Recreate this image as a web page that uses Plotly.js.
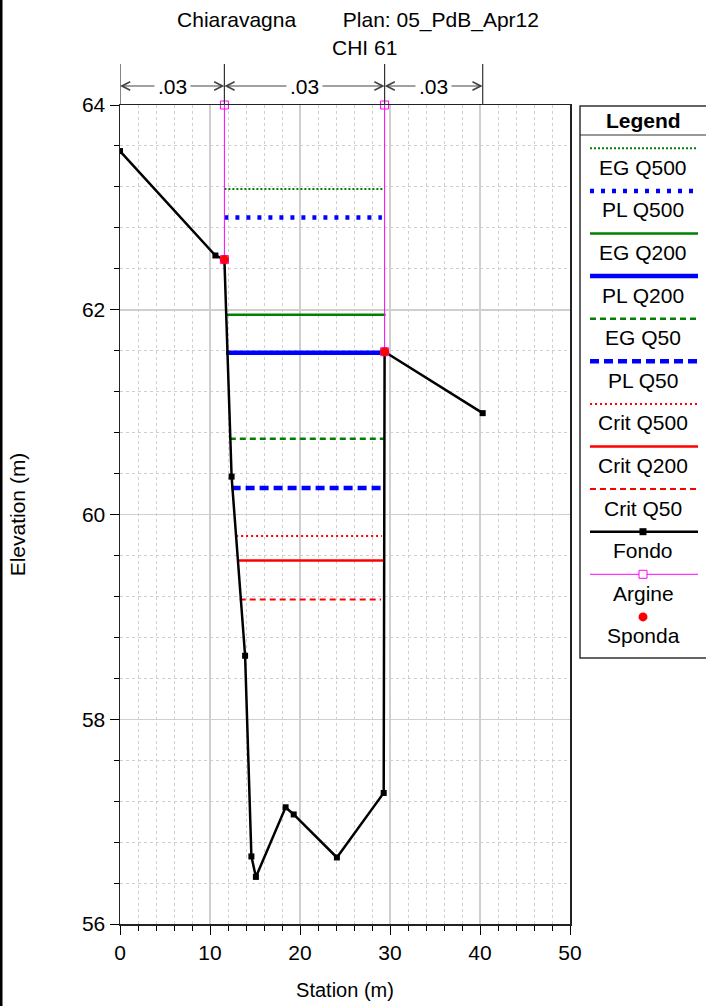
<!DOCTYPE html>
<html>
<head>
<meta charset="utf-8">
<script src="https://cdn.plot.ly/plotly-3.0.1.min.js"></script>
<style>html,body{margin:0;padding:0;background:#fff;}#chart{width:706px;height:1006px;}</style>
</head>
<body>
<div id="chart"></div>
<script>
// ---- data ----
const fondoX = [0, 10.6, 11.6, 12.4, 13.9, 14.6, 15.1, 18.4, 19.3, 24.1, 29.3, 29.4, 40.3];
const fondoY = [63.55, 62.53, 62.49, 60.37, 58.62, 56.66, 56.46, 57.14, 57.07, 56.65, 57.28, 61.59, 60.99];

const argineX = [11.6, 11.6, null, 29.4, 29.4];
const argineY = [62.49, 64.0, null, 61.59, 64.0];

const spondaX = [11.6, 29.4];
const spondaY = [62.49, 61.59];

const wsNames = ['EG Q500', 'PL Q500', 'EG Q200', 'PL Q200', 'EG Q50', 'PL Q50', 'Crit Q500', 'Crit Q200', 'Crit Q50'];
const wsElev  = [63.18, 62.90, 61.95, 61.58, 60.74, 60.26, 59.79, 59.55, 59.17];
const wsLeft  = [11.6, 11.6, 11.8, 11.8, 12.2, 12.4, 12.9, 13.1, 13.3];
const wsRight = [29.4, 29.1, 29.5, 29.4, 29.4, 29.0, 29.1, 29.4, 29.0];

const nBanks = [0, 11.6, 29.4, 40.3];
const nValues = ['.03', '.03', '.03'];

const xTitle = 'Station (m)';
const yTitle = 'Elevation (m)';
const titleLine1 = 'Chiaravagna' + '&nbsp;'.repeat(8) + 'Plan: 05_PdB_Apr12';
const titleLine2 = 'CHI 61';

// ---- styles ----
const GREEN = '#008000', BLUE = '#0000ff', RED = '#ff0000';
const wsStyle = [
  {color: GREEN, width: 2,   dash: '2px,2px'},
  {color: BLUE,  width: 4.5, dash: '4px,7px'},
  {color: GREEN, width: 2.5, dash: 'solid'},
  {color: BLUE,  width: 4.5, dash: 'solid'},
  {color: GREEN, width: 2.5, dash: '6px,4px'},
  {color: BLUE,  width: 4.5, dash: '9px,5px'},
  {color: RED,   width: 2,   dash: '2px,3px'},
  {color: RED,   width: 2.5, dash: 'solid'},
  {color: RED,   width: 2,   dash: '6px,4px'}
];

const traces = [];
wsNames.forEach((n, i) => {
  traces.push({
    type: 'scatter', mode: 'lines', name: n,
    x: [wsLeft[i], wsRight[i]], y: [wsElev[i], wsElev[i]],
    line: {color: wsStyle[i].color, width: wsStyle[i].width, dash: wsStyle[i].dash},
    hoverinfo: 'name+y'
  });
});
traces.push({
  type: 'scatter', mode: 'lines+markers', name: 'Fondo',
  x: fondoX, y: fondoY,
  line: {color: '#000', width: 2.5},
  marker: {symbol: 'square', size: 6, color: '#000'}
});
traces.push({
  type: 'scatter', mode: 'lines+markers', name: 'Argine',
  x: argineX, y: argineY, cliponaxis: false,
  line: {color: '#ff00ff', width: 1},
  marker: {symbol: 'square-open', size: 8, color: '#ff00ff', line: {width: 1}}
});
traces.push({
  type: 'scatter', mode: 'markers', name: 'Sponda',
  x: spondaX, y: spondaY, cliponaxis: false,
  marker: {symbol: 'circle', size: 9, color: RED}
});

// ---- helpers for pixel -> paper positions (layout only) ----
const L = 120, R = 570, T = 105, B = 924;
const xp = px => (px - L) / (R - L);
const yp = py => (B - py) / (B - T);

const shapes = [];
const annotations = [];

// left frame line of the picture
shapes.push({type: 'line', xref: 'paper', yref: 'paper', x0: xp(1), x1: xp(1), y0: yp(-5), y1: yp(1010), line: {color: '#000', width: 3}});

// n-value indicators above the plot
const arrowY = yp(86);
nBanks.forEach(b => {
  shapes.push({type: 'line', xref: 'x', yref: 'paper', x0: b, x1: b, y0: 1, y1: yp(64), line: {color: '#333', width: 1.2}});
});
for (let k = 0; k < nValues.length; k++) {
  const a = nBanks[k], b = nBanks[k + 1], mid = (a + b) / 2;
  [a, b].forEach(end => {
    annotations.push({x: end, y: arrowY, xref: 'x', yref: 'paper', ax: mid, ay: 0, axref: 'x', ayref: 'pixel',
      text: '', showarrow: true, arrowhead: 5, arrowsize: 1.5, arrowwidth: 1.1, arrowcolor: '#444', standoff: 0});
  });
}
for (let k = 0; k < nValues.length; k++) {
  const mid = (nBanks[k] + nBanks[k + 1]) / 2;
  annotations.push({x: mid, y: arrowY, xref: 'x', yref: 'paper', text: nValues[k], showarrow: false,
    bgcolor: '#fff', borderpad: 3, font: {size: 21, color: '#000'}, yanchor: 'middle'});
}

// second title line
annotations.push({x: xp(364), y: yp(47), xref: 'paper', yref: 'paper', text: titleLine2, showarrow: false,
  xanchor: 'center', yanchor: 'middle', font: {size: 21, color: '#000'}});

// ---- custom legend box ----
const lgX0 = 580, lgX1 = 730, lgTop = 106, lgBot = 658, lgCx = 643;
shapes.push({type: 'rect', xref: 'paper', yref: 'paper', x0: xp(lgX0), x1: xp(lgX1), y0: yp(lgBot), y1: yp(lgTop),
  line: {color: '#333', width: 1.5}, fillcolor: '#fff'});
shapes.push({type: 'line', xref: 'paper', yref: 'paper', x0: xp(lgX0), x1: xp(lgX1), y0: yp(135), y1: yp(135),
  line: {color: '#333', width: 1}});
annotations.push({x: xp(lgCx), y: yp(120), xref: 'paper', yref: 'paper', text: '<b>Legend</b>', showarrow: false,
  xanchor: 'center', yanchor: 'middle', font: {size: 21, color: '#000'}});

const legNames = wsNames.concat(['Fondo', 'Argine', 'Sponda']);
const step = 42.6, firstLine = 148.3;
legNames.forEach((n, i) => {
  const ly = firstLine + i * step;
  if (i < wsNames.length) {
    const s = wsStyle[i];
    shapes.push({type: 'line', xref: 'paper', yref: 'paper', x0: xp(590), x1: xp(698), y0: yp(ly), y1: yp(ly),
      line: {color: s.color, width: s.width, dash: s.dash}});
  } else if (n === 'Fondo') {
    shapes.push({type: 'line', xref: 'paper', yref: 'paper', x0: xp(590), x1: xp(698), y0: yp(ly), y1: yp(ly),
      line: {color: '#000', width: 2.5}});
    shapes.push({type: 'rect', xref: 'paper', yref: 'paper', x0: xp(lgCx - 3.5), x1: xp(lgCx + 3.5), y0: yp(ly + 3.5), y1: yp(ly - 3.5),
      line: {color: '#000', width: 0}, fillcolor: '#000'});
  } else if (n === 'Argine') {
    shapes.push({type: 'line', xref: 'paper', yref: 'paper', x0: xp(590), x1: xp(698), y0: yp(ly), y1: yp(ly),
      line: {color: '#ff00ff', width: 1}});
    shapes.push({type: 'rect', xref: 'paper', yref: 'paper', x0: xp(lgCx - 4), x1: xp(lgCx + 4), y0: yp(ly + 4), y1: yp(ly - 4),
      line: {color: '#ff00ff', width: 1}, fillcolor: '#fff'});
  } else {
    shapes.push({type: 'circle', xref: 'paper', yref: 'paper', x0: xp(lgCx - 4.5), x1: xp(lgCx + 4.5), y0: yp(ly + 4.5), y1: yp(ly - 4.5),
      line: {color: RED, width: 0}, fillcolor: RED});
  }
  annotations.push({x: xp(lgCx), y: yp(ly + 19), xref: 'paper', yref: 'paper', text: n, showarrow: false,
    xanchor: 'center', yanchor: 'middle', font: {size: 21, color: '#000'}});
});

const axisCommon = {
  showline: true, linecolor: '#222', linewidth: 1.5, mirror: true,
  ticks: 'outside', ticklen: 9, tickcolor: '#000', tickwidth: 1,
  showgrid: true, gridcolor: '#cfcfcf', gridwidth: 1.5, zeroline: false,
  tickfont: {size: 21, color: '#000'}
};
const minorCommon = {ticks: 'outside', ticklen: 5, tickcolor: '#000', showgrid: true, gridcolor: '#cfcfcf', griddash: '3px,3px', gridwidth: 1};

const layout = {
  width: 706, height: 1006,
  margin: {l: L, r: 706 - R, t: T, b: 1006 - B},
  paper_bgcolor: '#fff', plot_bgcolor: '#fff',
  font: {family: '"Liberation Sans", Arial, sans-serif', size: 21, color: '#000'},
  showlegend: false,
  title: {text: titleLine1, x: 358 / 706, xref: 'container', xanchor: 'center',
    y: 1 - 20 / 1006, yref: 'container', yanchor: 'middle', font: {size: 21, color: '#000'}},
  xaxis: Object.assign({}, axisCommon, {
    range: [0, 50], tick0: 0, dtick: 10,
    minor: Object.assign({dtick: 2}, minorCommon),
    title: {text: xTitle, standoff: 20, font: {size: 20}}
  }),
  yaxis: Object.assign({}, axisCommon, {
    range: [56, 64], tick0: 56, dtick: 2,
    minor: Object.assign({dtick: 0.4}, minorCommon),
    title: {text: yTitle, standoff: 50, font: {size: 21}}
  }),
  shapes: shapes,
  annotations: annotations
};

Plotly.newPlot('chart', traces, layout, {staticPlot: true});
</script>
</body>
</html>
